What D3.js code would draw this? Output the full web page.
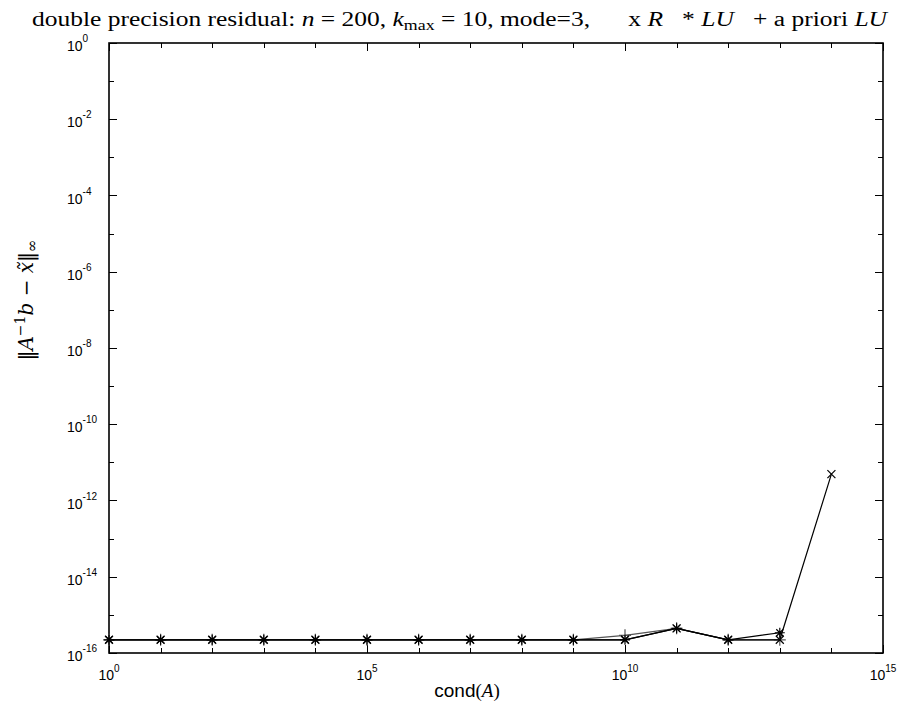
<!DOCTYPE html>
<html>
<head>
<meta charset="utf-8">
<script src="https://cdn.jsdelivr.net/npm/d3@7"></script>
<style>
  body { margin: 0; background: #fff; }
  svg { display: block; }
</style>
</head>
<body>
<svg width="901" height="702"></svg>
<script>
// Condition numbers (x) and residuals (y) for each series.
const condR = [1e0, 1e1, 1e2, 1e3, 1e4, 1e5, 1e6, 1e7, 1e8, 1e9, 1e10, 1e11, 1e12, 1e13, 1e14];
const residR = [2.22e-16, 2.22e-16, 2.22e-16, 2.22e-16, 2.22e-16, 2.22e-16, 2.22e-16,
  2.22e-16, 2.22e-16, 2.22e-16, 2.22e-16, 4.44e-16, 2.22e-16, 2.22e-16, 4.9e-12];
const condLU = [1e0, 1e1, 1e2, 1e3, 1e4, 1e5, 1e6, 1e7, 1e8, 1e9, 1e10, 1e11, 1e12, 1e13];
const residLU = [2.22e-16, 2.22e-16, 2.22e-16, 2.22e-16, 2.22e-16, 2.22e-16, 2.22e-16,
  2.22e-16, 2.22e-16, 2.22e-16, 2.22e-16, 4.44e-16, 2.22e-16, 3.4e-16];
const condPrior = [1e0, 1e1, 1e2, 1e3, 1e4, 1e5, 1e6, 1e7, 1e8, 1e9, 1e10, 1e11, 1e12, 1e13];
const residPrior = [2.22e-16, 2.22e-16, 2.22e-16, 2.22e-16, 2.22e-16, 2.22e-16, 2.22e-16,
  2.22e-16, 2.22e-16, 2.22e-16, 2.9e-16, 4.44e-16, 2.22e-16, 2.22e-16];

const xTickExps = [0, 5, 10, 15];
const yTickExps = [0, -2, -4, -6, -8, -10, -12, -14, -16];

const margin = {left: 109, right: 18, top: 43, bottom: 49};
const svg = d3.select('svg');
const width = +svg.attr('width');
const height = +svg.attr('height');

const x = d3.scaleLog().domain([1e0, 1e15])
    .range([margin.left, width - margin.right]);
const y = d3.scaleLog().domain([1e-16, 1e0])
    .range([height - margin.bottom, margin.top]);

const [x0, x1] = x.range();
const [y0, y1] = y.range(); // y0 bottom, y1 top

// Decade ticks, long where labelled.
const xDecades = d3.range(0, 16).map(e => Math.pow(10, e));
const yDecades = d3.range(-16, 1).map(e => Math.pow(10, e));
const isMajorX = d => xTickExps.includes(Math.round(Math.log10(d)));
const isMajorY = d => yTickExps.includes(Math.round(Math.log10(d)));

const tickGroup = svg.append('g').attr('stroke', '#000').attr('stroke-width', 1);
xDecades.forEach(d => {
  const len = isMajorX(d) ? 8 : 5;
  const px = Math.round(x(d)) + 0.5;
  tickGroup.append('line').attr('x1', px).attr('x2', px).attr('y1', y0).attr('y2', y0 - len);
  tickGroup.append('line').attr('x1', px).attr('x2', px).attr('y1', y1).attr('y2', y1 + len);
});
yDecades.forEach(d => {
  const len = isMajorY(d) ? 8 : 5;
  const py = Math.round(y(d)) + 0.5;
  tickGroup.append('line').attr('x1', x0).attr('x2', x0 + len).attr('y1', py).attr('y2', py);
  tickGroup.append('line').attr('x1', x1).attr('x2', x1 - len).attr('y1', py).attr('y2', py);
});

svg.append('rect')
    .attr('x', x0).attr('y', y1)
    .attr('width', x1 - x0).attr('height', y0 - y1)
    .attr('fill', 'none').attr('stroke', '#000').attr('stroke-width', 1.6);

// Tick labels: "10" with exponent as superscript.
const labelFont = '"Liberation Sans", Arial, sans-serif';
xTickExps.forEach(e => {
  const t = svg.append('text')
      .attr('x', x(Math.pow(10, e)))
      .attr('y', y0 + 27)
      .attr('text-anchor', 'middle')
      .attr('font-family', labelFont)
      .attr('font-size', 14);
  t.append('tspan').text('10');
  t.append('tspan').attr('dy', -8).attr('font-size', 10).text(e);
});
yTickExps.forEach(e => {
  const t = svg.append('text')
      .attr('x', 67)
      .attr('y', y(Math.pow(10, e)) + 8)
      .attr('font-family', labelFont)
      .attr('font-size', 14);
  t.append('tspan').text('10');
  t.append('tspan').attr('dy', -9).attr('font-size', 10).text(e);
});

// Series lines.
const line = d3.line().x(d => x(d[0])).y(d => y(d[1]));
const series = [
  {cx: condPrior, cy: residPrior, marker: 'plus', color: '#555'},
  {cx: condR, cy: residR, marker: 'cross', color: '#000'},
  {cx: condLU, cy: residLU, marker: 'star', color: '#000'},
];

const markerPath = (type, px, py) => {
  const p = d3.path();
  const plus = r => {
    p.moveTo(px - r, py); p.lineTo(px + r, py);
    p.moveTo(px, py - r); p.lineTo(px, py + r);
  };
  const cross = r => {
    p.moveTo(px - r, py - r); p.lineTo(px + r, py + r);
    p.moveTo(px - r, py + r); p.lineTo(px + r, py - r);
  };
  if (type === 'plus') plus(6);
  if (type === 'cross') cross(4);
  if (type === 'star') { plus(5); cross(3.5); }
  return p.toString();
};

series.forEach(s => {
  const pts = s.cx.map((c, i) => [c, s.cy[i]]);
  svg.append('path')
      .datum(pts)
      .attr('d', line)
      .attr('fill', 'none')
      .attr('stroke', s.color)
      .attr('stroke-width', 1.2);
  svg.append('g').selectAll('path')
      .data(pts)
      .join('path')
      .attr('d', d => markerPath(s.marker, x(d[0]), y(d[1])))
      .attr('stroke', s.color)
      .attr('stroke-width', 1.2)
      .attr('fill', 'none');
});

// Title.
const serif = '"Liberation Serif", "Times New Roman", serif';
const mathSerif = '"DejaVu Serif", "Liberation Serif", serif';
const title = svg.append('text')
    .attr('x', 32).attr('y', 26)
    .attr('font-family', serif)
    .attr('font-size', 20)
    .attr('textLength', 855)
    .attr('lengthAdjust', 'spacingAndGlyphs')
    .style('white-space', 'pre');
title.append('tspan').text('double precision residual: ');
title.append('tspan').attr('font-style', 'italic').text('n');
title.append('tspan').text(' = 200, ');
title.append('tspan').attr('font-style', 'italic').text('k');
title.append('tspan').attr('font-size', 14).attr('dy', 4).text('max');
title.append('tspan').attr('dy', -4).text(' = 10, mode=3,      x ');
title.append('tspan').attr('font-style', 'italic').text('R');
title.append('tspan').text('   * ');
title.append('tspan').attr('font-style', 'italic').text('LU');
title.append('tspan').text('   + a priori ');
title.append('tspan').attr('font-style', 'italic').text('LU');

// X axis label.
const xLabel = svg.append('text')
    .attr('x', 467).attr('y', 697)
    .attr('text-anchor', 'middle')
    .attr('font-size', 19);
xLabel.append('tspan').attr('font-family', labelFont).text('cond');
xLabel.append('tspan').attr('font-family', serif).text('(');
xLabel.append('tspan').attr('font-family', serif).attr('font-style', 'italic').text('A');
xLabel.append('tspan').attr('font-family', serif).text(')');

// Y axis label.
const yLabel = svg.append('text')
    .attr('transform', 'translate(33,300) rotate(-90)')
    .attr('text-anchor', 'middle')
    .attr('font-family', mathSerif)
    .attr('font-size', 20);
yLabel.append('tspan').text('\u2016');
yLabel.append('tspan').attr('font-style', 'italic').text('A');
yLabel.append('tspan').attr('font-size', 14).attr('dy', -8).text('\u22121');
yLabel.append('tspan').attr('dy', 8).attr('font-style', 'italic').text('b');
yLabel.append('tspan').text(' \u2212 ');
yLabel.append('tspan').attr('font-style', 'italic').text('x\u0303');
yLabel.append('tspan').text('\u2016');
yLabel.append('tspan').attr('font-size', 15).attr('dy', 4).text('\u221E');
</script>
</body>
</html>
